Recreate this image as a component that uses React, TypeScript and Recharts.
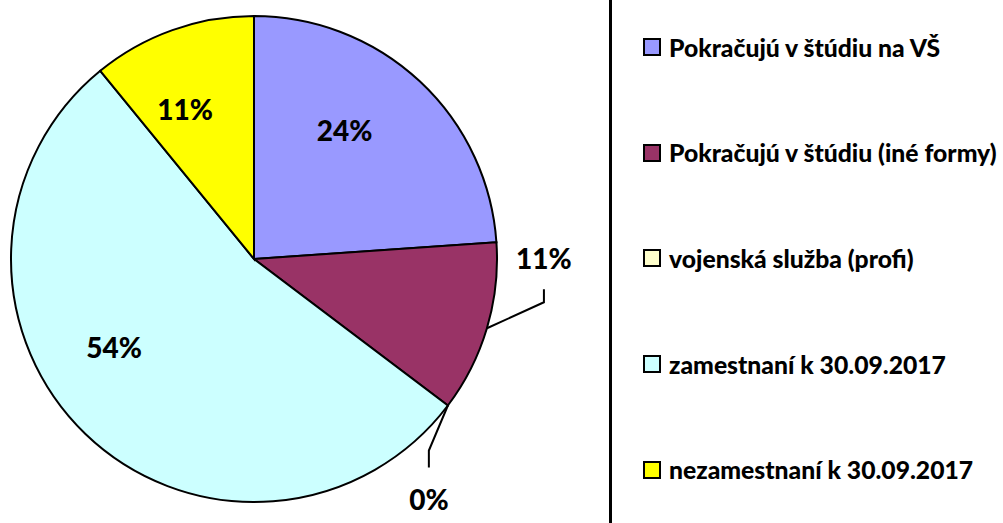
import { PieChart, Pie, Cell, Legend } from 'recharts';

const categories = [
  'Pokračujú v štúdiu na VŠ',
  'Pokračujú v štúdiu (iné formy)',
  'vojenská služba (profi)',
  'zamestnaní k 30.09.2017',
  'nezamestnaní k 30.09.2017',
];
const shares = [23.9, 11.4, 0, 53.8, 10.9];
const colors = ['#9999FF', '#993366', '#FFFFCC', '#CCFFFF', '#FFFF00'];

const data = categories.map((name, i) => ({ name, value: shares[i] }));

const RAD = Math.PI / 180;
const FONT = 'Lato, "Open Sans", sans-serif';

// label placement per slice: inside ones use angle shift + radius factor,
// outside ones get a leader line (dx, dy to the elbow, then vertical leg)
const labelCfg: Record<number, any> = {
  0: { inside: true, shift: 8, r: 0.65 },
  1: { inside: false, ex: 57, ey: -26, leg: -13, ty: -31 },
  2: { inside: false, ex: -19, ey: 45, leg: 17, ty: 31 },
  3: { inside: true, shift: -14, r: 0.68 },
  4: { inside: true, shift: 5, r: 0.68 },
};

function renderLabel(props: any) {
  const { cx, cy, midAngle, outerRadius, index, percent } = props;
  const cfg = labelCfg[index];
  const txt = `${Math.round(percent * 100)}%`;
  if (cfg.inside) {
    const a = (midAngle + cfg.shift) * RAD;
    const r = outerRadius * cfg.r;
    const x = cx + r * Math.cos(a);
    const y = cy - r * Math.sin(a);
    return (
      <text x={x} y={y} textAnchor="middle" dominantBaseline="central"
        fontFamily={FONT} fontWeight={900} fontSize={28} fill="#000">
        {txt}
      </text>
    );
  }
  const a = midAngle * RAD;
  const sx = cx + outerRadius * Math.cos(a);
  const sy = cy - outerRadius * Math.sin(a);
  const ex = sx + cfg.ex;
  const ey = sy + cfg.ey;
  const ly = ey + cfg.leg;
  return (
    <g>
      <polyline points={`${sx},${sy} ${ex},${ey} ${ex},${ly}`} fill="none" stroke="#000" strokeWidth={2} />
      <text x={ex} y={ly + cfg.ty} textAnchor="middle" dominantBaseline="central"
        fontFamily={FONT} fontWeight={900} fontSize={28} fill="#000">
        {txt}
      </text>
    </g>
  );
}

function LegendBox() {
  return (
    <div style={{ position: 'relative', width: 393, height: 523, borderLeft: '3px solid #000', boxSizing: 'border-box' }}>
      {categories.map((name, i) => (
        <div key={name} style={{
          position: 'absolute', left: 31, top: 47 + i * 105.7 - 15, height: 30,
          display: 'flex', alignItems: 'center', whiteSpace: 'nowrap',
        }}>
          <span style={{
            width: 14, height: 14, border: '2px solid #000', background: colors[i],
            display: 'inline-block', marginRight: 8,
          }} />
          <span style={{ fontFamily: FONT, fontWeight: 900, fontSize: 24.7, color: '#000' }}>{name}</span>
        </div>
      ))}
    </div>
  );
}

export default function App() {
  return (
    <div style={{ position: 'absolute', left: 0, top: 0, width: 1003, height: 523, background: '#fff' }}>
      <PieChart width={1003} height={523} margin={{ top: 0, right: 0, bottom: 0, left: 0 }}>
        <Pie
          data={data}
          dataKey="value"
          nameKey="name"
          cx={254}
          cy={259}
          outerRadius={243}
          startAngle={90}
          endAngle={-270}
          stroke="#000"
          strokeWidth={2}
          label={renderLabel}
          labelLine={false}
          isAnimationActive={false}
        >
          {data.map((d, i) => (
            <Cell key={d.name} fill={colors[i]} />
          ))}
        </Pie>
        <Legend
          layout="vertical"
          align="right"
          verticalAlign="top"
          content={() => <LegendBox />}
          wrapperStyle={{ left: 609, top: 0, width: 394, height: 523 }}
        />
      </PieChart>
    </div>
  );
}
